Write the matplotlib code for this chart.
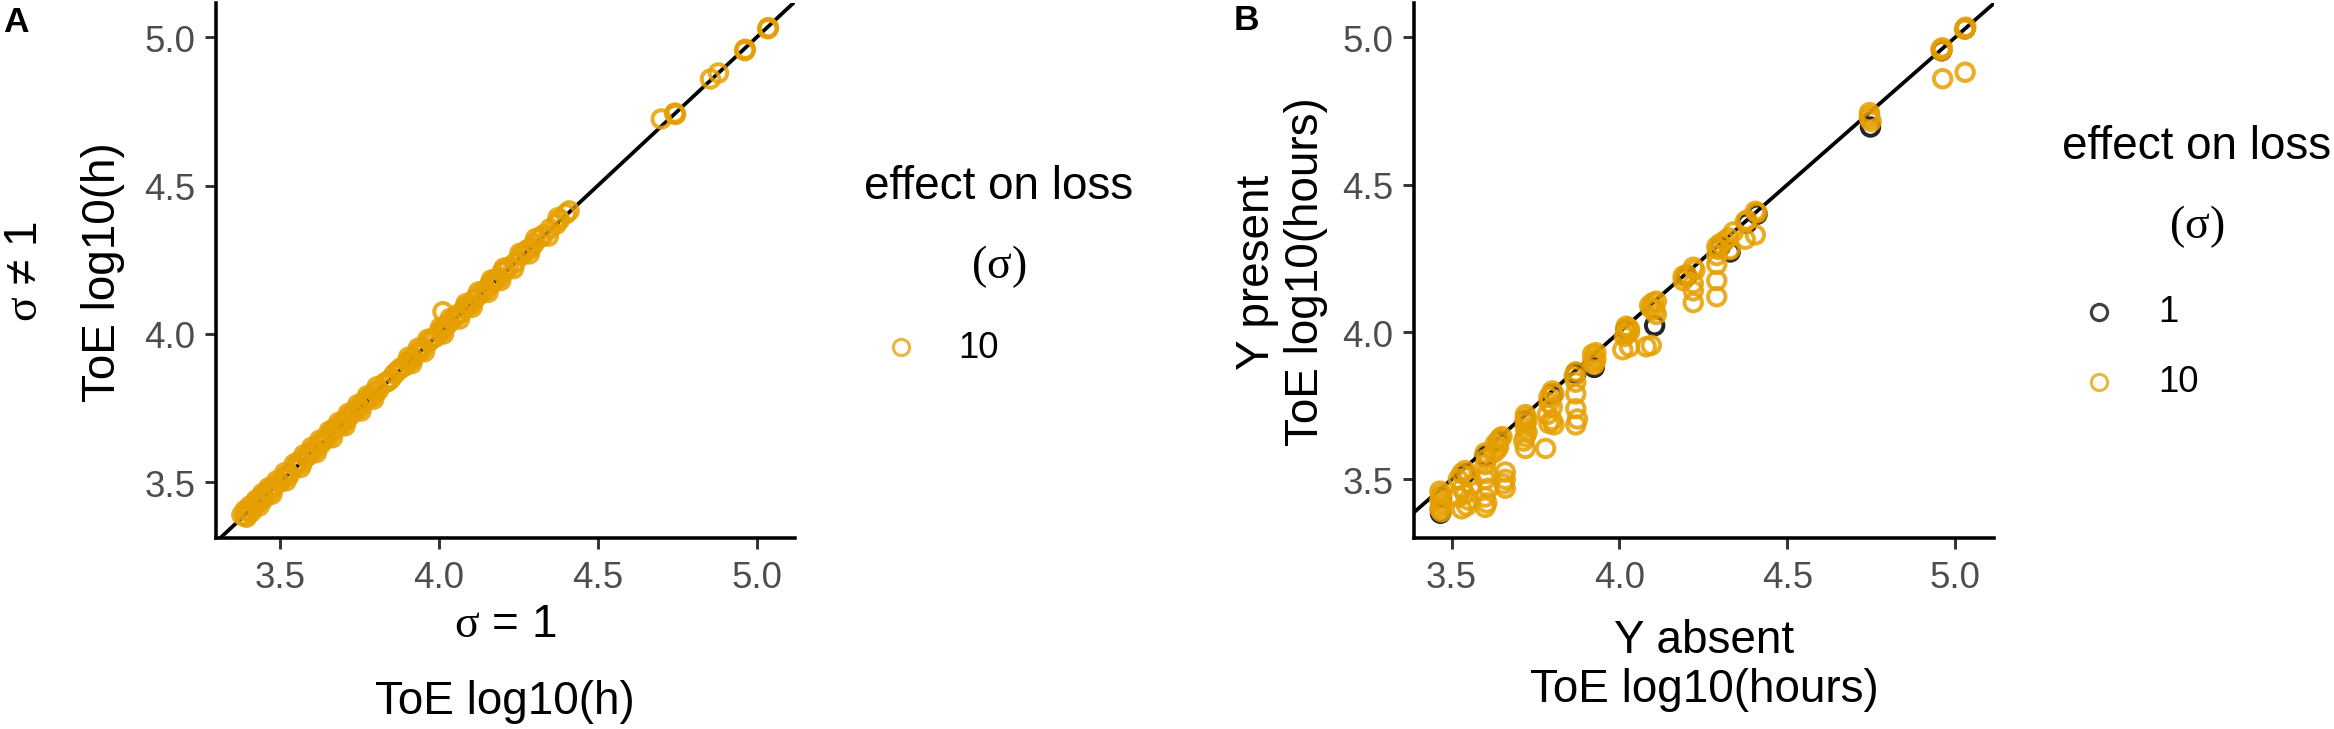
"Two-panel scatter of ToE log10 values against the identity line."

import matplotlib
matplotlib.use("Agg")
import matplotlib.pyplot as plt
from matplotlib.lines import Line2D

W, H, DPI = 2334, 730, 300

plt.rcParams['font.family'] = ['Liberation Sans', 'DejaVu Sans']
plt.rcParams['mathtext.fontset'] = 'custom'
plt.rcParams['mathtext.rm'] = 'Liberation Serif'
plt.rcParams['mathtext.it'] = 'Liberation Serif:italic'

# ---- data -------------------------------------------------------------
ticks = [3.5, 4.0, 4.5, 5.0]
tick_labels = ["3.5", "4.0", "4.5", "5.0"]
sigma_levels = ["1", "10"]

# panel A: sigma = 1 (x) vs sigma != 1 (y), only level 10
a_x = [3.38, 3.39, 3.40, 3.41, 3.42, 3.43, 3.44, 3.45, 3.46, 3.47, 3.48, 3.50,
       3.51, 3.52, 3.53, 3.55, 3.56, 3.57, 3.58, 3.59, 3.60, 3.61, 3.62, 3.63,
       3.64, 3.65, 3.66, 3.67, 3.68, 3.69, 3.70, 3.71, 3.72, 3.73, 3.74, 3.75,
       3.76, 3.77, 3.78, 3.79, 3.80, 3.81, 3.83, 3.84, 3.85, 3.86, 3.87, 3.88,
       3.89, 3.90, 3.91, 3.92, 3.93, 3.94, 3.95, 3.97, 3.98, 3.99, 4.00, 4.01,
       4.013, 4.02, 4.03, 4.05, 4.06, 4.07, 4.08, 4.09, 4.10, 4.11, 4.12, 4.14,
       4.15, 4.16, 4.17, 4.18, 4.19, 4.20, 4.21, 4.22, 4.24, 4.26, 4.27, 4.28,
       4.29, 4.30, 4.32, 4.33, 4.35, 4.37, 4.38, 4.40, 4.41,
       3.39, 3.405, 3.425, 3.445, 3.465, 3.49, 3.515, 3.545, 3.575, 3.60,
       3.625, 3.655, 3.685, 3.715, 3.745, 3.775, 3.805, 3.905, 3.935, 3.965,
       4.005, 4.035, 4.085, 4.125, 4.165, 4.205, 4.255, 4.305, 4.375,
       3.395, 3.435, 3.475, 3.52, 3.565, 3.615, 3.665, 3.705, 3.755, 3.795,
       3.915, 3.955, 4.015, 4.065, 4.105, 4.155, 4.195, 4.235, 4.285, 4.345,
       4.70, 4.743, 4.743, 4.745, 4.855, 4.88, 4.963, 4.963, 4.965,
       5.037, 5.037, 5.035]
a_y = [3.39, 3.385, 3.405, 3.40, 3.425, 3.43, 3.45, 3.445, 3.47, 3.465, 3.485, 3.50,
       3.515, 3.52, 3.525, 3.555, 3.57, 3.565, 3.585, 3.59, 3.605, 3.61, 3.625, 3.63,
       3.645, 3.65, 3.665, 3.68, 3.685, 3.69, 3.705, 3.71, 3.725, 3.735, 3.745, 3.75,
       3.765, 3.775, 3.785, 3.79, 3.805, 3.81, 3.835, 3.84, 3.85, 3.865, 3.875, 3.885,
       3.89, 3.905, 3.91, 3.92, 3.935, 3.94, 3.955, 3.975, 3.985, 3.99, 4.005, 4.01,
       4.075, 4.025, 4.035, 4.055, 4.065, 4.07, 4.085, 4.095, 4.10, 4.115, 4.125, 4.145,
       4.15, 4.165, 4.175, 4.185, 4.19, 4.21, 4.215, 4.225, 4.24, 4.265, 4.275, 4.285,
       4.29, 4.305, 4.325, 4.335, 4.355, 4.37, 4.385, 4.405, 4.415,
       3.405, 3.42, 3.44, 3.462, 3.482, 3.505, 3.532, 3.562, 3.592, 3.618,
       3.642, 3.672, 3.702, 3.732, 3.762, 3.792, 3.822, 3.922, 3.952, 3.982,
       4.022, 4.052, 4.102, 4.142, 4.182, 4.222, 4.272, 4.322, 4.392,
       3.382, 3.42, 3.46, 3.505, 3.55, 3.60, 3.65, 3.69, 3.74, 3.78,
       3.90, 3.94, 4.0, 4.05, 4.09, 4.14, 4.18, 4.22, 4.27, 4.33,
       4.725, 4.742, 4.745, 4.740, 4.86, 4.88, 4.955, 4.958, 4.960,
       5.031, 5.033, 5.029]

# panel B: Y absent (x) vs Y present (y), sigma = 1
b1_x = [3.467, 3.47, 3.54, 3.60, 3.64, 3.72, 3.80, 3.87, 3.925, 4.02, 4.105,
        4.20, 4.30, 4.33, 4.38, 4.41, 4.748, 4.96, 5.03]
b1_y = [3.385, 3.44, 3.52, 3.58, 3.63, 3.70, 3.79, 3.86, 3.88, 4.01, 4.022,
        4.19, 4.29, 4.272, 4.37, 4.40, 4.696, 4.955, 5.03]

# panel B: sigma = 10
b10_x = [3.465, 3.47, 3.468, 3.465, 3.47, 3.468, 3.465, 3.47,
         3.52, 3.53, 3.54, 3.55, 3.53, 3.54, 3.52, 3.55, 3.545, 3.53, 3.56,
         3.60, 3.605, 3.60, 3.605, 3.60, 3.61, 3.60, 3.605, 3.60,
         3.63, 3.64, 3.645, 3.65, 3.635, 3.64, 3.625,
         3.66, 3.66, 3.66, 3.655,
         3.72, 3.72, 3.725, 3.72, 3.72, 3.725, 3.72, 3.715, 3.72,
         3.79, 3.80, 3.805, 3.79, 3.80, 3.785, 3.80, 3.79, 3.805, 3.78,
         3.87, 3.865, 3.87, 3.87, 3.87, 3.875, 3.87,
         3.92, 3.93, 3.925, 3.92, 3.93, 3.925,
         4.02, 4.025, 4.03, 4.02, 4.03, 4.015, 4.01, 4.03,
         4.09, 4.10, 4.11, 4.095, 4.105, 4.11, 4.08, 4.095,
         4.19, 4.20, 4.22, 4.225, 4.19, 4.22, 4.22, 4.22,
         4.29, 4.30, 4.295, 4.29, 4.29, 4.29, 4.29, 4.315, 4.325, 4.34, 4.33,
         4.375, 4.38, 4.405, 4.41, 4.375, 4.405,
         4.745, 4.745, 4.745, 4.75,
         4.958, 4.96, 4.962, 4.963,
         5.03, 5.032, 5.028, 5.03]
b10_y = [3.46, 3.45, 3.44, 3.43, 3.42, 3.41, 3.40, 3.39,
         3.50, 3.52, 3.53, 3.51, 3.47, 3.45, 3.44, 3.43, 3.41, 3.40, 3.48,
         3.59, 3.57, 3.55, 3.52, 3.50, 3.47, 3.44, 3.42, 3.405,
         3.62, 3.63, 3.64, 3.645, 3.60, 3.61, 3.59,
         3.525, 3.50, 3.47, 3.485,
         3.72, 3.71, 3.70, 3.69, 3.675, 3.66, 3.645, 3.63, 3.605,
         3.78, 3.80, 3.79, 3.76, 3.745, 3.72, 3.70, 3.69, 3.685, 3.605,
         3.865, 3.85, 3.83, 3.79, 3.74, 3.705, 3.685,
         3.925, 3.93, 3.915, 3.90, 3.905, 3.89,
         4.02, 4.015, 4.00, 3.995, 4.01, 3.985, 3.94, 3.95,
         4.09, 4.10, 4.105, 4.08, 4.075, 4.06, 3.95, 3.955,
         4.19, 4.195, 4.22, 4.21, 4.175, 4.165, 4.14, 4.10,
         4.29, 4.30, 4.28, 4.26, 4.23, 4.175, 4.12, 4.31, 4.32, 4.34, 4.28,
         4.375, 4.38, 4.41, 4.405, 4.315, 4.33,
         4.745, 4.735, 4.725, 4.715,
         4.96, 4.955, 4.965, 4.86,
         5.03, 5.035, 5.028, 4.882]

# ---- style ------------------------------------------------------------
colors = {"1": "#000000", "10": "#E69F00"}
PT_ALPHA = 0.85
MS = 4.2
MEW = 0.95
TICK_COLOR = "#4D4D4D"


def fx(px):
    return px / W


def fy(py):
    return 1 - py / H


fig = plt.figure(figsize=(W / DPI, H / DPI), dpi=DPI)


def make_axes(left, right, xlim, ylim):
    ax = fig.add_axes([fx(left), fy(539), (right - left) / W, (539 - 4) / H])
    ax.set_xlim(*xlim)
    ax.set_ylim(*ylim)
    for side in ("top", "right"):
        ax.spines[side].set_visible(False)
    for side in ("left", "bottom"):
        ax.spines[side].set_linewidth(0.85)
        ax.spines[side].set_color("black")
    ax.set_xticks(ticks)
    ax.set_xticklabels(tick_labels)
    ax.set_yticks(ticks)
    ax.set_yticklabels(tick_labels)
    ax.tick_params(length=2.6, width=0.7, color="#333333", labelsize=8.8,
                   labelcolor=TICK_COLOR)
    ax.tick_params(axis="x", pad=2.6)
    ax.tick_params(axis="y", pad=2.4)
    ax.axline((4.0, 4.0), slope=1, color="black", lw=0.9, zorder=1)
    return ax


def points(ax, xs, ys, level):
    ax.scatter(xs, ys, s=MS ** 2, facecolors="none", edgecolors=colors[level],
               linewidths=MEW, alpha=PT_ALPHA, zorder=2, clip_on=False)


def legend(cx, title_y, levels, key_x, text_x, key_ys):
    fig.text(fx(cx), fy(title_y), "effect on loss", ha="center", va="center",
             fontsize=11)
    fig.text(fx(cx), fy(title_y + 80), r"$\mathrm{(\sigma)}$", ha="center",
             va="center", fontsize=11)
    for level, ky in zip(levels, key_ys):
        fig.add_artist(Line2D([fx(key_x)], [fy(ky)], transform=fig.transFigure,
                              marker="o", ms=MS - 0.3, mfc="none",
                              mec=colors[level], mew=MEW - 0.2,
                              alpha=0.75, linestyle="none"))
        fig.text(fx(text_x), fy(ky), level, ha="left", va="center",
                 fontsize=8.8)


# ---- panel A ----------------------------------------------------------
ax_a = make_axes(216, 795, (3.2986, 5.121), (3.312, 5.116))
points(ax_a, a_x, a_y, "10")

fig.text(fx(505), fy(625), r"$\mathrm{\sigma}$ = 1", ha="center", va="center",
         fontsize=11)
fig.text(fx(505), fy(702), "ToE log10(h)", ha="center", va="center", fontsize=11)
fig.text(fx(103), fy(272), "ToE log10(h)", ha="center", va="center",
         rotation=90, fontsize=11)
fig.text(fx(25), fy(272), r"$\mathrm{\sigma}$ ≠ 1", ha="center", va="center",
         rotation=90, fontsize=11)
fig.text(fx(3), fy(22), "A", ha="left", va="center", fontsize=8.5,
         fontweight="bold")

legend(999, 187, ["10"], 901, 958, [348])

# ---- panel B ----------------------------------------------------------
ax_b = make_axes(1414, 1994, (3.388, 5.116), (3.301, 5.117))
points(ax_b, b1_x, b1_y, "1")
points(ax_b, b10_x, b10_y, "10")

fig.text(fx(1704), fy(641), "Y absent", ha="center", va="center", fontsize=11)
fig.text(fx(1704), fy(690), "ToE log10(hours)", ha="center", va="center",
         fontsize=11)
fig.text(fx(1257), fy(272), "Y present", ha="center", va="center",
         rotation=90, fontsize=11)
fig.text(fx(1306), fy(272), "ToE log10(hours)", ha="center", va="center",
         rotation=90, fontsize=11)
fig.text(fx(1234), fy(21), "B", ha="left", va="center", fontsize=8.5,
         fontweight="bold")

legend(2197, 147, sigma_levels, 2099, 2158, [313, 383])

fig.savefig("out.png", dpi=DPI)
